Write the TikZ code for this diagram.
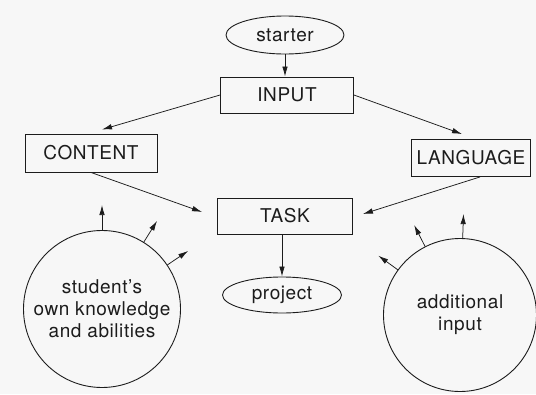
\documentclass[tikz,border=0pt]{standalone}
\usepackage{fontspec}
\setmainfont[LetterSpace=3]{TeX Gyre Heros}
\usetikzlibrary{arrows.meta,shapes.geometric}

\definecolor{ink}{HTML}{1C1C1C}
\definecolor{paper}{HTML}{F7F7F7}

\tikzset{
  lbl/.style={font=\fontsize{19}{21.8}\selectfont, text=ink, align=center, inner sep=0pt},
  boxnode/.style={lbl, draw=ink, line width=0.9pt, rectangle},
  ovalnode/.style={lbl, draw=ink, line width=0.9pt, ellipse},
  roundnode/.style={lbl, draw=ink, line width=0.9pt, circle},
  link/.style={draw=ink, line width=0.75pt, -{Latex[length=10pt,width=5.5pt]}},
}

\begin{document}
\begin{tikzpicture}[x=1pt, y=-1pt]
  \fill[paper] (0,0) rectangle (536,394);
  \useasboundingbox (0,0) rectangle (536,394);

  % flow nodes
  \node[ovalnode, minimum width=118pt, minimum height=38pt] (starter) at (285,35) {starter};
  \node[boxnode, minimum width=133pt, minimum height=36pt] (input) at (287,95) {INPUT};
  \node[boxnode, minimum width=132pt, minimum height=38pt] (content) at (91,153) {CONTENT};
  \node[boxnode, minimum width=119pt, minimum height=37pt] (language) at (471,158) {LANGUAGE};
  \node[boxnode, minimum width=135pt, minimum height=36pt] (task) at (285,216) {TASK};
  \node[ovalnode, minimum width=119pt, minimum height=36pt] (project) at (282,295) {project};

  % source circles
  \node[roundnode, minimum size=157pt] (own) at (102,309) {student's\\own knowledge\\and abilities};
  \node[roundnode, minimum size=153pt] (extra) at (460,315) {additional\\input};

  % connectors between the flow nodes
  \draw[link] (starter.south) -- (starter.south |- input.north);
  \draw[link] (input.west) -- ([xshift=11pt,yshift=4pt]content.north);
  \draw[link] (input.east) -- ([xshift=-9pt,yshift=5pt]language.north);
  \draw[link] (content.south) -- ([xshift=-15pt,yshift=4pt]task.west);
  \draw[link] ([xshift=9pt]language.south) -- ([xshift=10pt,yshift=2pt]task.east);
  \draw[link] (project.north |- task.south) -- (project.north);

  % outward arrows from the circles
  \foreach \a in {90,58,34} {
    \coordinate (ownTip\a) at ([shift={(\a:25pt)}]own.\a);
    \draw[link] (own.\a) -- (ownTip\a);
  }
  \foreach \a in {88,117,144} {
    \coordinate (extraTip\a) at ([shift={(\a:24pt)}]extra.\a);
    \draw[link] (extra.\a) -- (extraTip\a);
  }
\end{tikzpicture}
\end{document}
